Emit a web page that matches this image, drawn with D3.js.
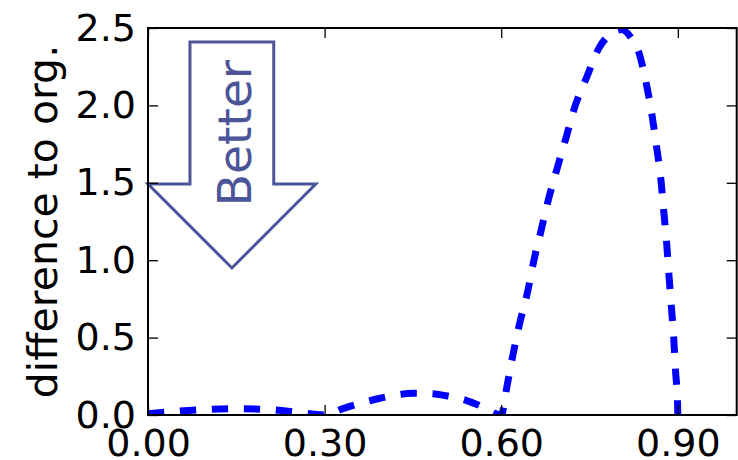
<!DOCTYPE html>
<html>
<head>
<meta charset="utf-8">
<script src="https://cdn.jsdelivr.net/npm/d3@7"></script>
<style>
  html, body { margin: 0; padding: 0; background: #fff; }
  svg { display: block; font-family: "DejaVu Sans", sans-serif; }
</style>
</head>
<body>
<svg id="chart" width="738" height="460"></svg>
<script>
// ---- data ----
const xValues = [0.00, 0.05, 0.10, 0.15, 0.20, 0.25, 0.30, 0.33, 0.36, 0.39, 0.42, 0.45, 0.48, 0.51, 0.54, 0.57, 0.60,
  0.61, 0.62, 0.63, 0.645, 0.655, 0.667, 0.68, 0.694, 0.71, 0.725, 0.745, 0.766, 0.785, 0.805, 0.82, 0.834, 0.847,
  0.856, 0.864, 0.871, 0.876, 0.881, 0.885, 0.889, 0.893, 0.896, 0.8995, 0.90];
const yValues = [0.008, 0.024, 0.036, 0.041, 0.036, 0.020, 0.0, 0.040, 0.075, 0.105, 0.128, 0.140, 0.138, 0.122, 0.095, 0.050, 0.0,
  0.19, 0.39, 0.57, 0.80, 0.99, 1.18, 1.39, 1.58, 1.79, 1.99, 2.18, 2.37, 2.46, 2.49, 2.44, 2.34, 2.13,
  1.94, 1.73, 1.53, 1.32, 1.11, 0.90, 0.70, 0.50, 0.29, 0.08, 0.0];
const xTicks = [0.0, 0.3, 0.6, 0.9];
const xTickLabels = ["0.00", "0.30", "0.60", "0.90"];
const yTicks = [0.0, 0.5, 1.0, 1.5, 2.0, 2.5];
const yTickLabels = ["0.0", "0.5", "1.0", "1.5", "2.0", "2.5"];
const yLabel = "difference to org.";
const arrowLabel = "Better";
// arrow outline in data coordinates
const arrowX = [0.0713, 0.2136, 0.2136, 0.2850, 0.1426, 0.0, 0.0713];
const arrowY = [2.41, 2.41, 1.492, 1.492, 0.95, 1.492, 1.492];

// ---- layout ----
const svg = d3.select("#chart");
const L = 148, R = 736.7, T = 28, B = 415;
const x = d3.scaleLinear().domain([0, 1.0]).range([L, R]);
const y = d3.scaleLinear().domain([0, 2.5]).range([B, T]);

svg.append("defs").append("clipPath").attr("id", "clip")
  .append("rect").attr("x", L).attr("y", T).attr("width", R - L).attr("height", B - T);

// arrow
const arrowPts = arrowX.map((v, i) => [x(v), y(arrowY[i])]);
svg.append("path")
  .attr("d", d3.line()(arrowPts) + "Z")
  .attr("fill", "none")
  .attr("stroke", "#4b5597")
  .attr("stroke-width", 3)
  .attr("stroke-linejoin", "miter");

svg.append("text")
  .attr("transform", `translate(251,133) rotate(-90)`)
  .attr("text-anchor", "middle")
  .attr("font-size", 47)
  .attr("fill", "#4b5597")
  .text(arrowLabel);

// curve
const data = xValues.map((v, i) => [v, yValues[i]]);
svg.append("path")
  .datum(data)
  .attr("clip-path", "url(#clip)")
  .attr("d", d3.line().x(d => x(d[0])).y(d => y(d[1])).curve(d3.curveMonotoneX))
  .attr("fill", "none")
  .attr("stroke", "#0000ff")
  .attr("stroke-width", 7)
  .attr("stroke-dasharray", "16.3,15.7");

// axes with inward ticks
const tickLen = 10;
const axB = d3.axisBottom(x).tickValues(xTicks).tickSize(-tickLen).tickPadding(14)
  .tickFormat((d, i) => xTickLabels[i]);
const axT = d3.axisTop(x).tickValues(xTicks).tickSize(-tickLen).tickFormat("");
const axL = d3.axisLeft(y).tickValues(yTicks).tickSize(-tickLen).tickPadding(12)
  .tickFormat((d, i) => yTickLabels[i]);
const axR = d3.axisRight(y).tickValues(yTicks).tickSize(-tickLen).tickFormat("");

function style(g) {
  g.select(".domain").remove();
  g.selectAll(".tick line").attr("stroke", "#000").attr("stroke-width", 1.3);
  g.selectAll(".tick text").attr("fill", "#000").attr("font-size", 38)
    .attr("font-family", "DejaVu Sans, sans-serif");
}
svg.append("g").attr("transform", `translate(0,${B})`).call(axB).call(style);
svg.append("g").attr("transform", `translate(0,${T})`).call(axT).call(style);
svg.append("g").attr("transform", `translate(${L},0)`).call(axL).call(style);
svg.append("g").attr("transform", `translate(${R},0)`).call(axR).call(style);

// frame
svg.append("rect").attr("x", L).attr("y", T).attr("width", R - L).attr("height", B - T)
  .attr("fill", "none").attr("stroke", "#000").attr("stroke-width", 2);

// y label
svg.append("text")
  .attr("transform", `translate(57,${(T + B) / 2}) rotate(-90)`)
  .attr("text-anchor", "middle")
  .attr("font-size", 41)
  .attr("fill", "#000")
  .text(yLabel);
</script>
</body>
</html>
